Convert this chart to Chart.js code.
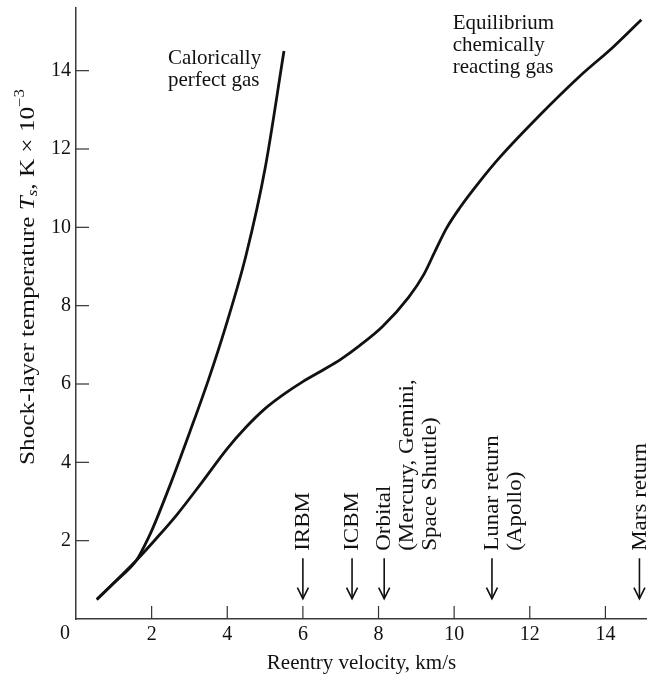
<!DOCTYPE html>
<html>
<head>
<meta charset="utf-8">
<script src="https://cdn.jsdelivr.net/npm/chart.js@4.4.0/dist/chart.umd.min.js"></script>
<style>
  html, body { margin: 0; padding: 0; background: #fff; }
  #wrap { width: 647px; height: 678px; position: relative; }
</style>
</head>
<body>
<div id="wrap"><canvas id="chart"></canvas></div>
<script>
// reentry velocity (km/s) vs shock-layer temperature (K x 10^-3)
const perfectV = [0.55, 1.0, 1.6, 1.8, 2.0, 2.5, 3.0, 3.5, 4.0, 4.5, 5.0, 5.5];
const perfectT = [0.5, 0.92, 1.5, 1.85, 2.25, 3.45, 4.75, 6.1, 7.6, 9.3, 11.5, 14.5];

const equilV = [0.55, 1.0, 1.6, 2.1, 2.65, 3.3, 4.0, 4.5, 5.0, 5.5, 6.0, 6.5, 7.0, 7.5, 8.1, 8.8, 9.2, 9.5, 9.8, 10.15, 10.7, 11.2, 12.25, 13.3, 14.2, 14.95];
const equilT = [0.5, 0.92, 1.5, 2.03, 2.64, 3.45, 4.35, 4.9, 5.37, 5.74, 6.06, 6.34, 6.63, 6.98, 7.46, 8.22, 8.8, 9.4, 9.98, 10.5, 11.2, 11.78, 12.85, 13.84, 14.6, 15.3];

const xTicks = [2, 4, 6, 8, 10, 12, 14];
const yTicks = [2, 4, 6, 8, 10, 12, 14];

// mission entry velocities marked with arrows
const missionV = [6.0, 7.3, 8.15, 11.0, 14.9];
const missionLabels = [
    ["IRBM"],
    ["ICBM"],
    ["Orbital", "(Mercury, Gemini,", "Space Shuttle)"],
    ["Lunar return", "(Apollo)"],
    ["Mars return"]
];

const curveLabels = [
    ["Calorically", "perfect gas"],
    ["Equilibrium", "chemically", "reacting gas"]
];

const SERIF = '"Liberation Serif", "DejaVu Serif", "Times New Roman", serif';
const INK = '#111';

function toPoints(xs, ys) {
    return xs.map((x, i) => ({ x: x, y: ys[i] }));
}

function seg(ctx, x1, y1, x2, y2) {
    ctx.beginPath();
    ctx.moveTo(x1, y1);
    ctx.lineTo(x2, y2);
    ctx.stroke();
}

// vertical text reading bottom to top, slightly stretched like the scan
function vText(ctx, lines, cx, by, gap, stretch) {
    ctx.save();
    ctx.translate(cx, by);
    ctx.rotate(-Math.PI / 2);
    ctx.scale(stretch, 1);
    ctx.textAlign = 'left';
    ctx.textBaseline = 'middle';
    lines.forEach((t, i) => ctx.fillText(t, 0, i * gap));
    ctx.restore();
}

const annotate = {
    id: 'annotate',
    afterDraw(chart) {
        const ctx = chart.ctx;
        const xs = chart.scales.x, ys = chart.scales.y;
        const area = chart.chartArea;
        ctx.save();
        ctx.strokeStyle = '#333';
        ctx.fillStyle = INK;

        // tick marks point into the plot
        ctx.lineWidth = 1.2;
        xTicks.forEach(v => {
            const px = xs.getPixelForValue(v);
            seg(ctx, px, area.bottom, px, area.bottom - 13);
        });
        yTicks.forEach(v => {
            const py = ys.getPixelForValue(v);
            seg(ctx, area.left, py, area.left + 13, py);
        });

        // corner zero
        ctx.font = '20px ' + SERIF;
        ctx.textAlign = 'center';
        ctx.textBaseline = 'top';
        ctx.fillText('0', area.left - 11, area.bottom + 5);

        // mission arrows
        ctx.strokeStyle = INK;
        ctx.lineWidth = 1.6;
        const topY = ys.getPixelForValue(1.55);
        const tipY = ys.getPixelForValue(0.52);
        const textY = ys.getPixelForValue(1.74);
        ctx.font = '20px ' + SERIF;
        missionV.forEach((v, i) => {
            const px = xs.getPixelForValue(v);
            seg(ctx, px, topY, px, tipY);
            ctx.beginPath();
            ctx.moveTo(px - 5.5, tipY - 11);
            ctx.lineTo(px, tipY);
            ctx.lineTo(px + 5.5, tipY - 11);
            ctx.stroke();
            vText(ctx, missionLabels[i], px + 1, textY, 23, 1.15);
        });

        // curve labels
        ctx.font = '21px ' + SERIF;
        ctx.textAlign = 'left';
        ctx.textBaseline = 'alphabetic';
        const labelAt = [[2.43, 14.17], [9.96, 15.06]];
        curveLabels.forEach((lines, i) => {
            const px = xs.getPixelForValue(labelAt[i][0]);
            const py = ys.getPixelForValue(labelAt[i][1]);
            lines.forEach((t, j) => ctx.fillText(t, px, py + j * 22));
        });

        // x axis title
        ctx.font = '21px ' + SERIF;
        ctx.textAlign = 'center';
        ctx.fillText('Reentry velocity, km/s', (area.left + area.right) / 2, 669);

        // y axis title with subscript and superscript
        const parts = [
            { t: 'Shock-layer temperature ', f: '21px ' + SERIF, dy: 0 },
            { t: 'T', f: 'italic 21px ' + SERIF, dy: 0 },
            { t: 's', f: 'italic 14px ' + SERIF, dy: 5 },
            { t: ', K \u00d7 10', f: '21px ' + SERIF, dy: 0 },
            { t: '\u22123', f: '14px ' + SERIF, dy: -8 }
        ];
        let total = 0;
        parts.forEach(p => { ctx.font = p.f; p.w = ctx.measureText(p.t).width; total += p.w; });
        const stretch = 1.2;
        ctx.save();
        ctx.translate(28, 277);
        ctx.rotate(-Math.PI / 2);
        ctx.scale(stretch, 1);
        ctx.textAlign = 'left';
        ctx.textBaseline = 'middle';
        let cur = -total / 2;
        parts.forEach(p => {
            ctx.font = p.f;
            ctx.fillText(p.t, cur, p.dy);
            cur += p.w;
        });
        ctx.restore();

        ctx.restore();
    }
};

const ctx = document.getElementById('chart').getContext('2d');
new Chart(ctx, {
    type: 'line',
    data: {
        datasets: [{
            label: 'Calorically perfect gas',
            data: toPoints(perfectV, perfectT),
            borderColor: INK,
            borderWidth: 2.8,
            pointRadius: 0,
            cubicInterpolationMode: 'monotone',
            fill: false
        }, {
            label: 'Equilibrium chemically reacting gas',
            data: toPoints(equilV, equilT),
            borderColor: INK,
            borderWidth: 2.8,
            pointRadius: 0,
            cubicInterpolationMode: 'monotone',
            fill: false
        }]
    },
    options: {
        responsive: true,
        maintainAspectRatio: false,
        animation: false,
        layout: { padding: { top: 8, right: 0, left: 0, bottom: 0 } },
        plugins: {
            legend: { display: false },
            tooltip: { enabled: false }
        },
        scales: {
            x: {
                type: 'linear',
                min: 0,
                max: 15.1,
                afterBuildTicks: s => { s.ticks = xTicks.map(v => ({ value: v })); },
                afterFit: s => { s.height = 59; s.paddingLeft = 0; s.paddingRight = 0; },
                grid: { display: false, drawTicks: false },
                border: { display: true, color: '#3a3a3a', width: 1.5 },
                ticks: {
                    color: INK,
                    padding: 4,
                    maxRotation: 0,
                    autoSkip: false,
                    font: { family: SERIF, size: 20 }
                }
            },
            y: {
                type: 'linear',
                min: 0,
                max: 15.6,
                afterBuildTicks: s => { s.ticks = yTicks.map(v => ({ value: v })); },
                afterFit: s => { s.width = 76; s.paddingTop = 0; s.paddingBottom = 0; },
                grid: { display: false, drawTicks: false },
                border: { display: true, color: '#3a3a3a', width: 1.5 },
                ticks: {
                    color: INK,
                    padding: 5,
                    autoSkip: false,
                    font: { family: SERIF, size: 20 }
                }
            }
        }
    },
    plugins: [annotate]
});
</script>
</body>
</html>
